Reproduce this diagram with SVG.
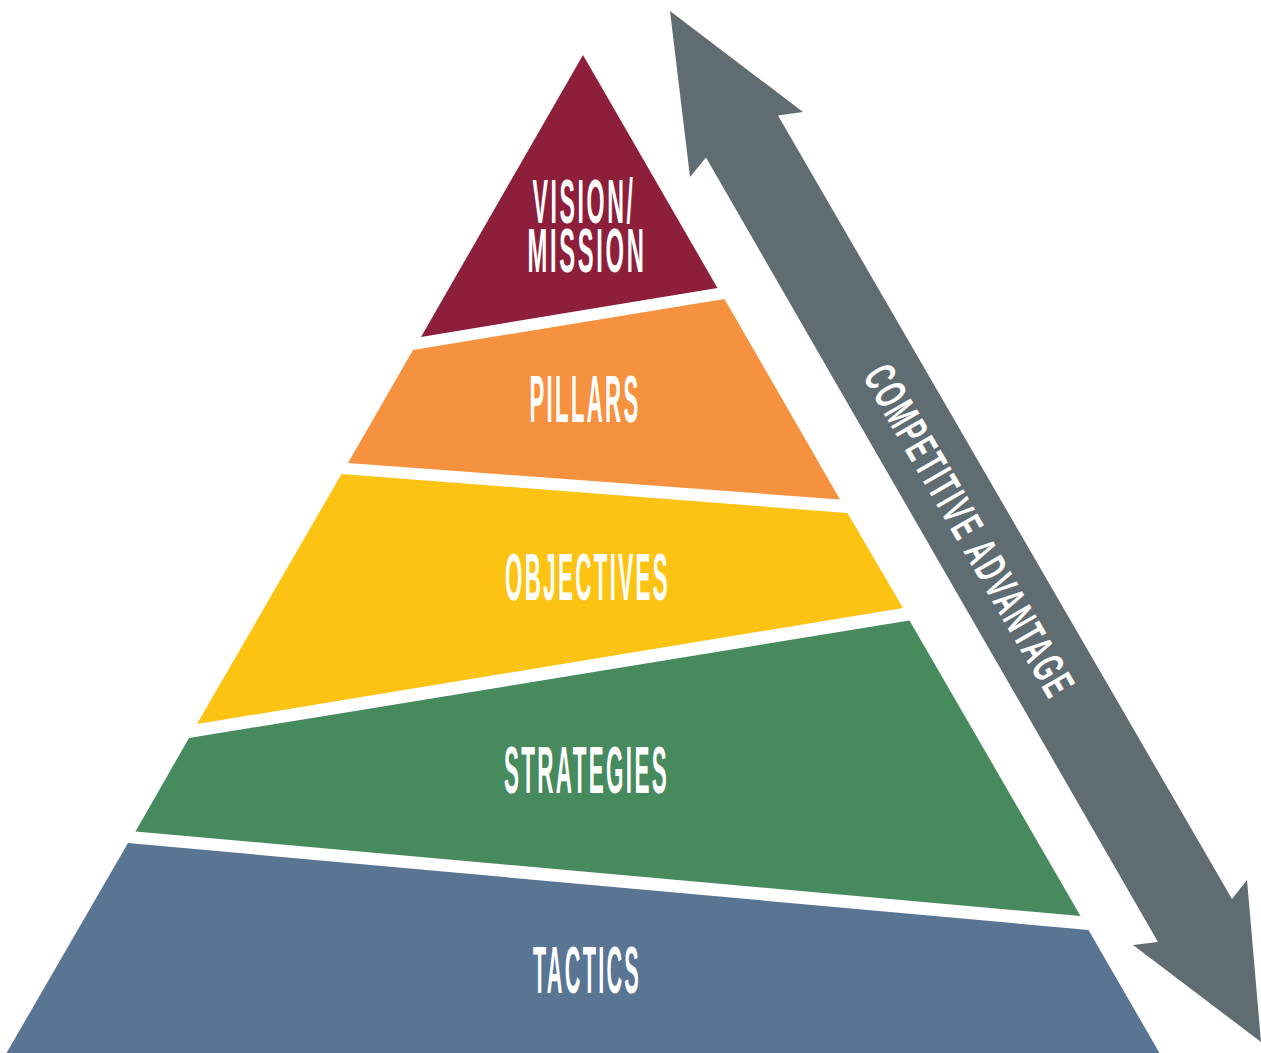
<svg xmlns="http://www.w3.org/2000/svg" width="1261" height="1053" viewBox="0 0 1261 1053">
  <style>
    .lbl { font-family: "Liberation Sans Narrow", "Liberation Sans", Arial, sans-serif; font-stretch: condensed; font-weight: bold; fill: #ffffff; text-anchor: middle; font-size: 67px; letter-spacing: 7px; }
    .lbl.sm { font-size: 63px; }
    .arrow-lbl { font-family: "Liberation Sans Narrow", "Liberation Sans", Arial, sans-serif; font-stretch: condensed; font-weight: bold; fill: #ffffff; text-anchor: middle; font-size: 45px; letter-spacing: 4px; }
  </style>
  <rect width="1261" height="1053" fill="#ffffff"/>

  <!-- pyramid tiers, top to bottom -->
  <g id="tier-vision">
    <polygon points="583,55 717.5,288 421,337" fill="#8E1F3B"/>
    <text class="lbl sm"><tspan x="584" y="223" textLength="103" lengthAdjust="spacingAndGlyphs">VISION/</tspan><tspan x="587" y="272" textLength="119" lengthAdjust="spacingAndGlyphs">MISSION</tspan></text>
  </g>
  <g id="tier-pillars">
    <polygon points="413,350 724.5,299 840,499.5 348,463" fill="#F6923F"/>
    <text class="lbl" x="585" y="422" textLength="111" lengthAdjust="spacingAndGlyphs">PILLARS</text>
  </g>
  <g id="tier-objectives">
    <polygon points="341.5,474 847.5,513 903,608 197,724" fill="#FCC313"/>
    <text class="lbl" x="587.5" y="600" textLength="165" lengthAdjust="spacingAndGlyphs">OBJECTIVES</text>
  </g>
  <g id="tier-strategies">
    <polygon points="189,738 909.5,620.5 1080.5,916 135.5,831.5" fill="#468A5E"/>
    <text class="lbl" x="586.5" y="793" textLength="165" lengthAdjust="spacingAndGlyphs">STRATEGIES</text>
  </g>
  <g id="tier-tactics">
    <polygon points="128,843 1088.5,930 1159.5,1053 6.5,1053" fill="#5A7594"/>
    <text class="lbl" x="587" y="993" textLength="108" lengthAdjust="spacingAndGlyphs">TACTICS</text>
  </g>

  <!-- double-headed arrow alongside the pyramid -->
  <g id="connectors">
    <g id="arrow-competitive-advantage">
      <polygon points="670,11 803,112 778,115.5 1232,899 1247,880 1261,1042 1133,945 1158,942 706,157.5 690,177" fill="#5F6D73"/>
      <text class="arrow-lbl" transform="translate(970,531) rotate(60)" x="0" y="16" textLength="376" lengthAdjust="spacingAndGlyphs">COMPETITIVE ADVANTAGE</text>
    </g>
  </g>
</svg>
